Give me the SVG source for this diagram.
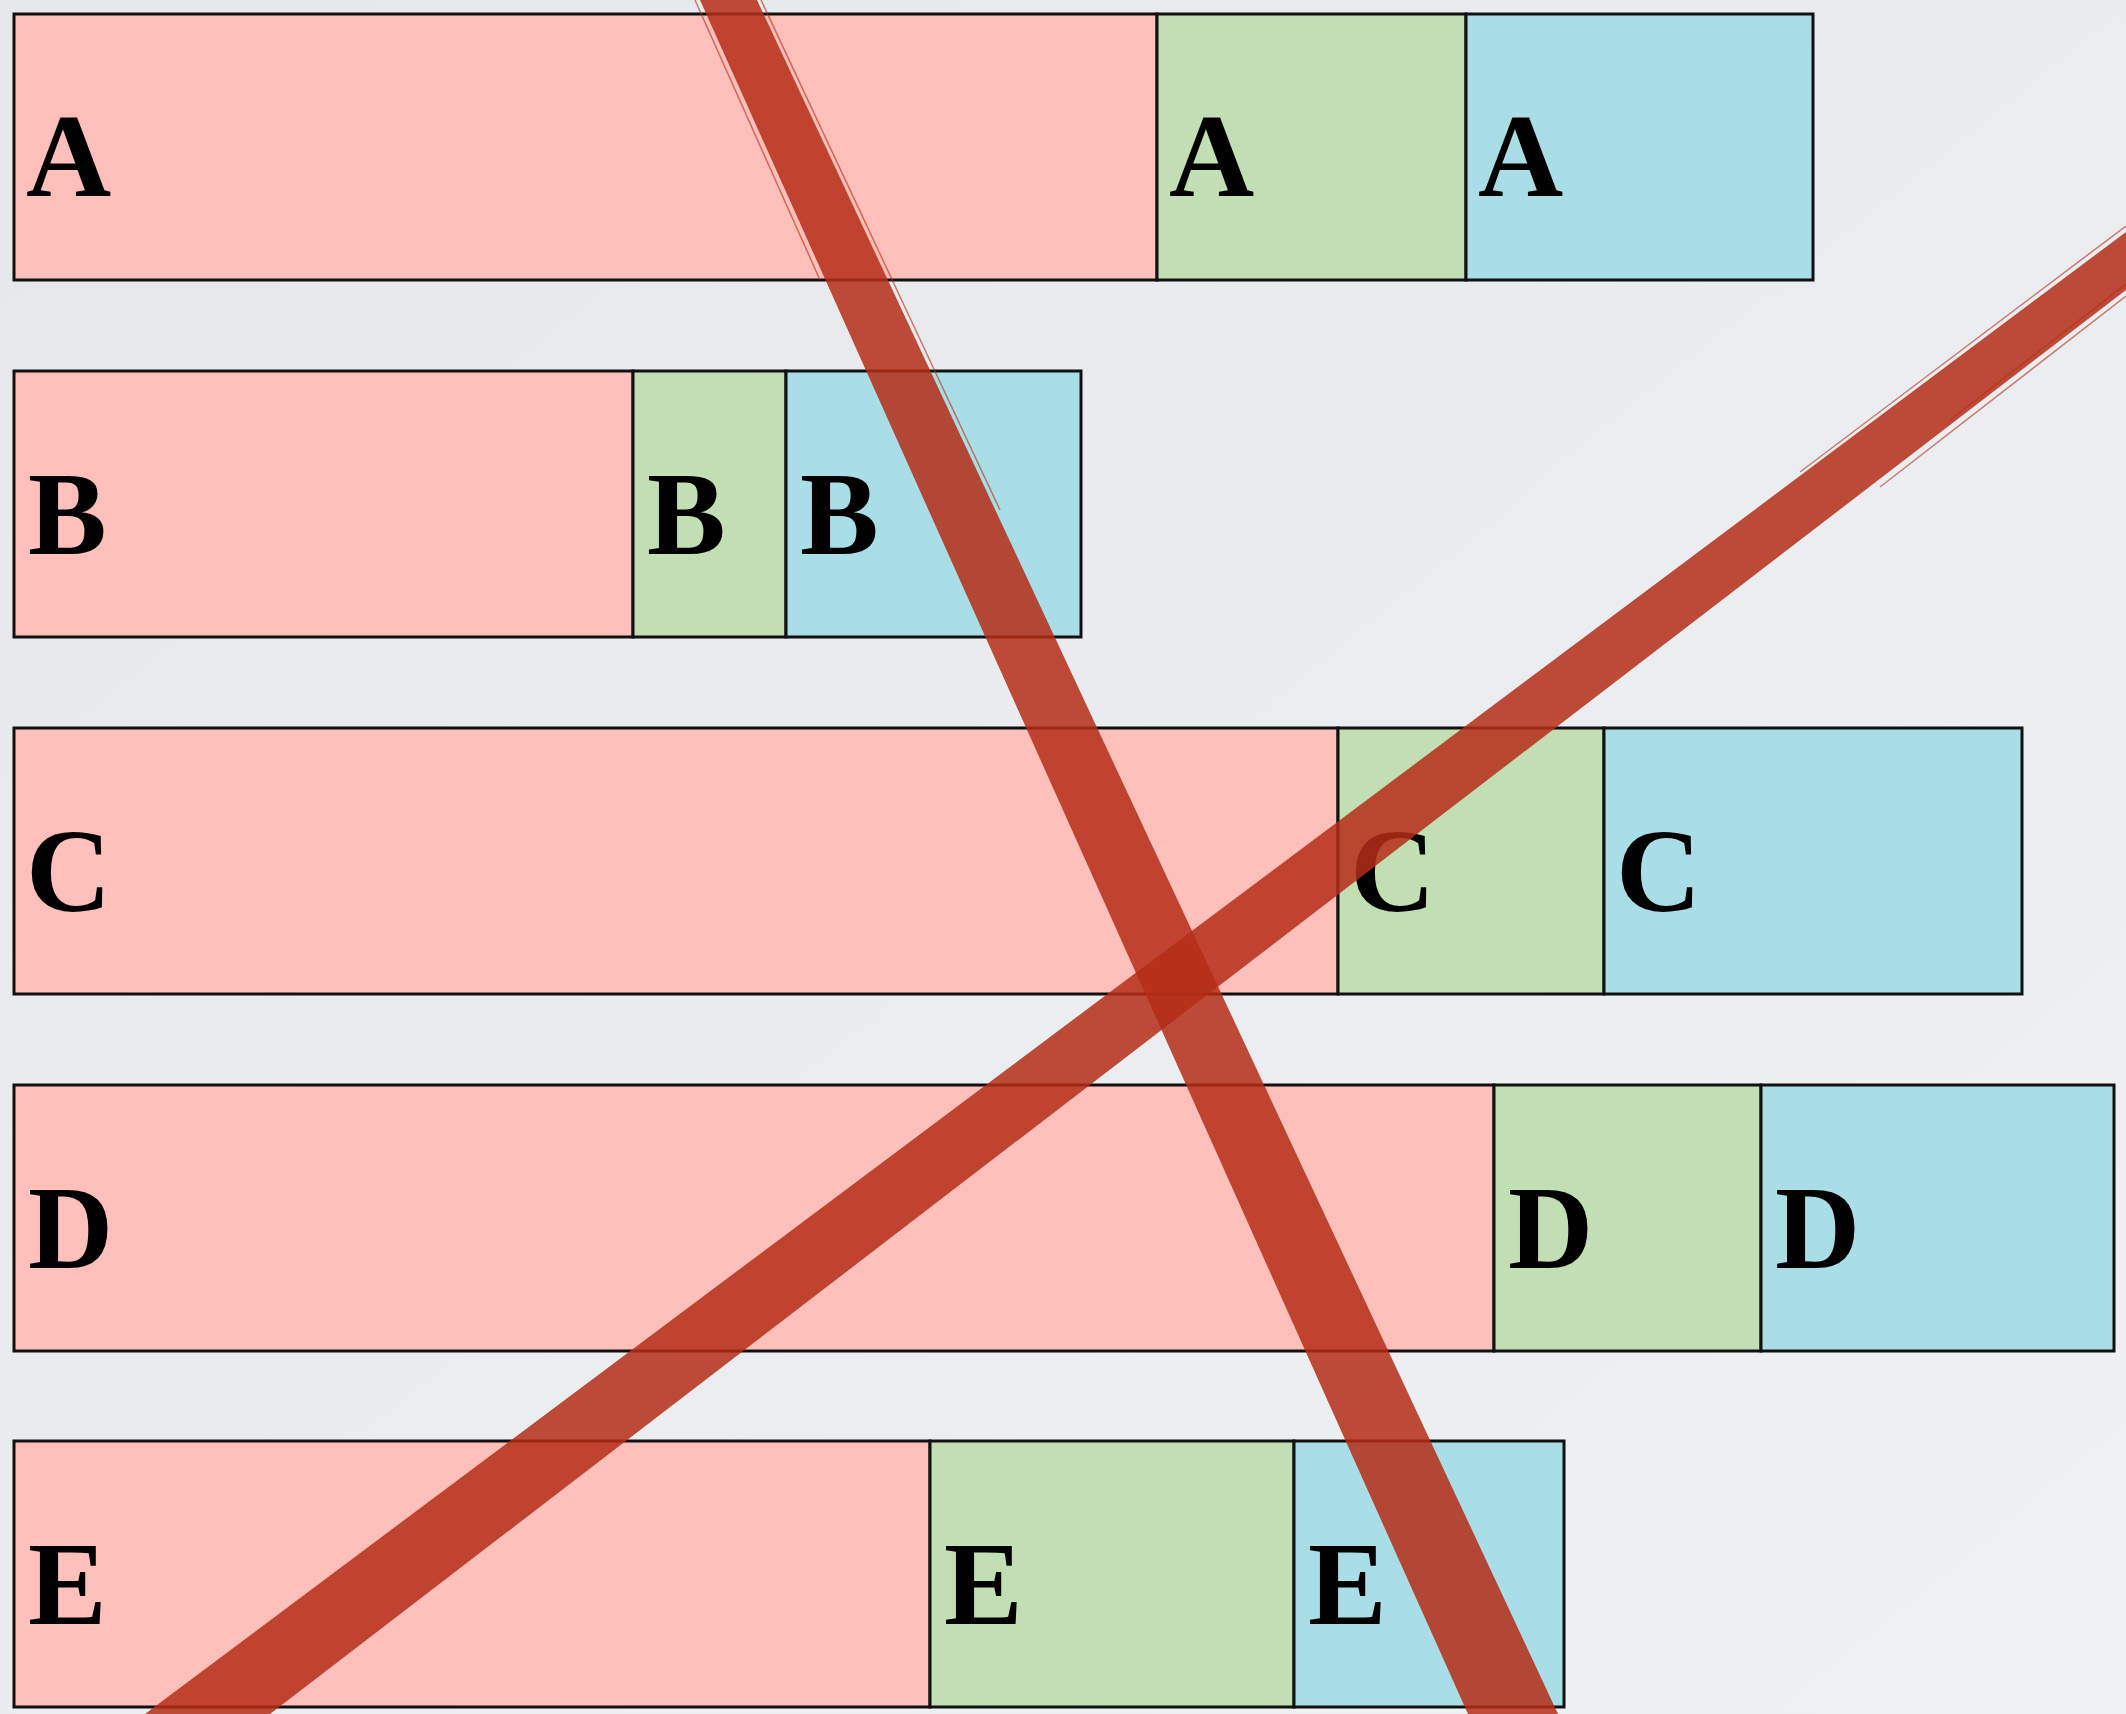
<svg xmlns="http://www.w3.org/2000/svg" width="2126" height="1714" viewBox="0 0 2126 1714">
<defs>
<linearGradient id="bg" x1="0" y1="0" x2="1" y2="1">
<stop offset="0" stop-color="#e5e8eb"/>
<stop offset="1" stop-color="#eff1f3"/>
</linearGradient>
<style>
.p{fill:#ffbfba;stroke:#111;stroke-width:3}
.g{fill:#c1dfb3;stroke:#111;stroke-width:3}
.b{fill:#a9dee7;stroke:#111;stroke-width:3}
.t{font-family:"Liberation Serif","Times New Roman",serif;font-weight:bold;font-size:118px;fill:#000}
.s{fill:#b52d16;fill-opacity:0.85}
.f{stroke:#b52d16;stroke-opacity:0.6;fill:none;stroke-width:1.5}
</style>
</defs>
<rect width="2126" height="1714" fill="url(#bg)"/>
<g id="rowA">
<g id="A1"><rect class="p" x="14" y="14" width="1143" height="266"/><text class="t" x="26" y="196">A</text></g>
<g id="A2"><rect class="g" x="1157" y="14" width="309" height="266"/><text class="t" x="1169" y="196">A</text></g>
<g id="A3"><rect class="b" x="1466" y="14" width="347" height="266"/><text class="t" x="1478" y="196">A</text></g>
</g>
<g id="rowB">
<g id="B1"><rect class="p" x="14" y="371" width="619" height="266"/><text class="t" x="28" y="554">B</text></g>
<g id="B2"><rect class="g" x="633" y="371" width="153" height="266"/><text class="t" x="647" y="554">B</text></g>
<g id="B3"><rect class="b" x="786" y="371" width="295" height="266"/><text class="t" x="800" y="554">B</text></g>
</g>
<g id="rowC">
<g id="C1"><rect class="p" x="14" y="728" width="1324" height="266"/><text class="t" x="26" y="911">C</text></g>
<g id="C2"><rect class="g" x="1338" y="728" width="266" height="266"/><text class="t" x="1350" y="911">C</text></g>
<g id="C3"><rect class="b" x="1604" y="728" width="418" height="266"/><text class="t" x="1616" y="911">C</text></g>
</g>
<g id="rowD">
<g id="D1"><rect class="p" x="14" y="1085" width="1480" height="266"/><text class="t" x="28" y="1268">D</text></g>
<g id="D2"><rect class="g" x="1494" y="1085" width="267" height="266"/><text class="t" x="1508" y="1268">D</text></g>
<g id="D3"><rect class="b" x="1761" y="1085" width="353" height="266"/><text class="t" x="1775" y="1268">D</text></g>
</g>
<g id="rowE">
<g id="E1"><rect class="p" x="14" y="1441" width="916" height="266"/><text class="t" x="28" y="1624">E</text></g>
<g id="E2"><rect class="g" x="930" y="1441" width="364" height="266"/><text class="t" x="944" y="1624">E</text></g>
<g id="E3"><rect class="b" x="1294" y="1441" width="270" height="266"/><text class="t" x="1308" y="1624">E</text></g>
</g>
<g id="strikes">
<polygon class="s" points="700,0 757,0 1558,1714 1468,1714"/>
<polygon class="s" points="145,1714 2126,232 2126,290 270,1714"/>
<path class="f" d="M695,0 L820,280 M761,0 L1000,510 M1800,472 L2126,226 M1880,487 L2126,296 M1950,420 L2126,284"/>
</g>
</svg>
